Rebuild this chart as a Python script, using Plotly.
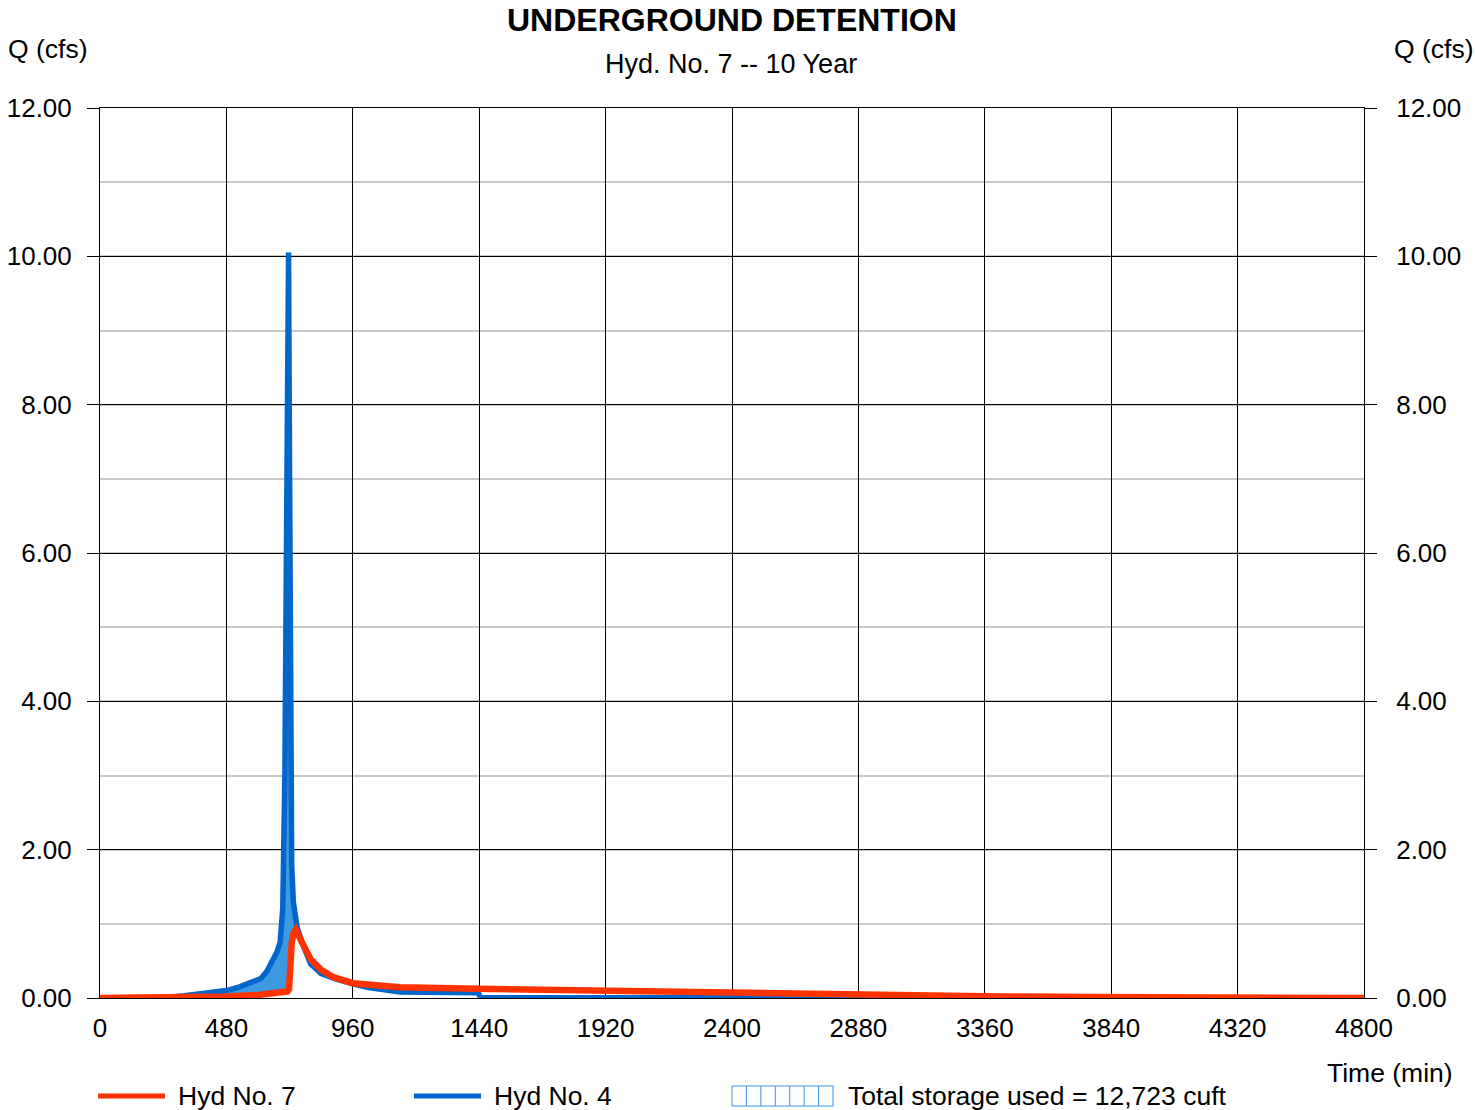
import numpy as np
import plotly.graph_objects as go

# ---------------- data ----------------
hyd4_time = [0, 200, 260, 320, 380, 440, 480, 530, 580, 610, 634, 657, 672, 684, 694, 702, 710, 716,
             720, 724, 728, 734, 748, 770, 800, 840, 900, 960, 1020, 1140, 1300, 1436, 1446, 2400, 3360, 4800]
hyd4_q = [0.0, 0.0, 0.01, 0.03, 0.05, 0.08, 0.10, 0.15, 0.21, 0.26, 0.36, 0.50, 0.62, 0.75, 1.2, 3.0, 7.5, 10.05,
          7.0, 3.5, 1.8, 1.3, 0.96, 0.72, 0.46, 0.33, 0.25, 0.19, 0.14, 0.08, 0.075, 0.07, 0.005, 0.004, 0.002, 0.0]

hyd7_time = [0, 300, 480, 600, 680, 712, 718, 722, 728, 736, 744, 760, 780, 800, 840, 886, 960, 1060,
             1140, 1440, 1920, 2280, 2880, 3420, 3800, 4320, 4800]
hyd7_q = [0.0, 0.005, 0.02, 0.04, 0.06, 0.09, 0.12, 0.40, 0.75, 0.88, 0.92, 0.80, 0.65, 0.52, 0.38, 0.28, 0.20, 0.16,
          0.144, 0.125, 0.095, 0.077, 0.045, 0.02, 0.013, 0.006, 0.0]

y_ticks = [0, 2, 4, 6, 8, 10, 12]
x_ticks = [0, 480, 960, 1440, 1920, 2400, 2880, 3360, 3840, 4320, 4800]

title_text = "UNDERGROUND DETENTION"
subtitle_text = "Hyd. No. 7 -- 10 Year"
legend_labels = ["Hyd No. 7", "Hyd No. 4", "Total storage used = 12,723 cuft"]

RED = "#ff3300"
BLUE = "#0066cc"
FILL = "#3d9ae0"
FONT = "Liberation Sans, Arial, sans-serif"

# ---------------- derived storage band ----------------
t_all = np.unique(np.concatenate([hyd4_time, hyd7_time]))
b_all = np.interp(t_all, hyd4_time, hyd4_q)
r_all = np.interp(t_all, hyd7_time, hyd7_q)
upper = np.maximum(b_all, r_all)

fig = go.Figure()
fig.add_trace(go.Scatter(x=t_all, y=r_all, mode="lines", line=dict(width=0, color=FILL),
                         showlegend=False, hoverinfo="skip"))
fig.add_trace(go.Scatter(x=t_all, y=upper, mode="lines", line=dict(width=0, color=FILL),
                         fill="tonexty", fillcolor=FILL, showlegend=False, hoverinfo="skip"))
fig.add_trace(go.Scatter(x=hyd4_time, y=hyd4_q, mode="lines", name=legend_labels[1],
                         line=dict(color=BLUE, width=5.5), showlegend=False))
fig.add_trace(go.Scatter(x=hyd7_time, y=hyd7_q, mode="lines", name=legend_labels[0],
                         line=dict(color=RED, width=6.5), showlegend=False))
# trace to carry the right-hand axis
fig.add_trace(go.Scatter(x=[x_ticks[0]], y=[y_ticks[0]], yaxis="y2", mode="markers",
                         marker=dict(opacity=0), showlegend=False, hoverinfo="skip"))

L, R, T, B = 100, 111, 108, 112
W, H = 1475, 1110
pw, ph = W - L - R, H - T - B


def px(x):
    return (x - L) / pw


def py(y):
    return (H - B - y) / ph


yaxis_common = dict(range=[y_ticks[0], y_ticks[-1]], tickvals=y_ticks,
                    ticktext=[f"{v:.2f}" for v in y_ticks],
                    ticks="outside", ticklen=12, tickwidth=1, tickcolor="#000",
                    tickfont=dict(family=FONT, size=26, color="#000"),
                    showline=True, linecolor="#000", linewidth=1,
                    automargin=False)

fig.update_layout(
    width=W, height=H, autosize=False,
    margin=dict(l=L, r=R, t=T, b=B),
    paper_bgcolor="white", plot_bgcolor="white",
    font=dict(family=FONT, color="#000"),
    xaxis=dict(range=[x_ticks[0], x_ticks[-1]], tickvals=x_ticks, ticks="",
               tickfont=dict(family=FONT, size=26, color="#000"),
               showgrid=True, gridcolor="#000", gridwidth=1,
               showline=True, linecolor="#000", linewidth=1, mirror=True,
               zeroline=False, ticklabelstandoff=7, automargin=False),
    yaxis=dict(**yaxis_common, showgrid=True, gridcolor="#000", gridwidth=1,
               zeroline=True, zerolinecolor="#000", zerolinewidth=1, ticklabelstandoff=10,
               minor=dict(dtick=1, tick0=0, showgrid=True, gridcolor="#c8c8c8", gridwidth=2, ticks="")),
    yaxis2=dict(**yaxis_common, overlaying="y", side="right", showgrid=False, zeroline=False,
                ticklabelstandoff=14),
)

ann = []
ann.append(dict(text=f"<b>{title_text}</b>", x=px(732), y=py(20), xref="paper", yref="paper",
                showarrow=False, font=dict(family=FONT, size=32, color="#000"),
                xanchor="center", yanchor="middle"))
ann.append(dict(text=subtitle_text, x=px(731), y=py(64), xref="paper", yref="paper",
                showarrow=False, font=dict(family=FONT, size=27, color="#000"),
                xanchor="center", yanchor="middle"))
ann.append(dict(text="Q (cfs)", x=px(6), y=py(49), xref="paper", yref="paper",
                showarrow=False, font=dict(family=FONT, size=26.5, color="#000"),
                xanchor="left", yanchor="middle"))
ann.append(dict(text="Q (cfs)", x=px(1476), y=py(49), xref="paper", yref="paper",
                showarrow=False, font=dict(family=FONT, size=26.5, color="#000"),
                xanchor="right", yanchor="middle"))
ann.append(dict(text="Time (min)", x=px(1455), y=py(1073), xref="paper", yref="paper",
                showarrow=False, font=dict(family=FONT, size=26.5, color="#000"),
                xanchor="right", yanchor="middle"))
# legend texts
for xpos, label in zip([176, 492, 846], legend_labels):
    ann.append(dict(text=label, x=px(xpos), y=py(1096), xref="paper", yref="paper",
                    showarrow=False, font=dict(family=FONT, size=26.5, color="#000"),
                    xanchor="left", yanchor="middle"))

shapes = []
shapes.append(dict(type="line", xref="paper", yref="paper", x0=px(98), x1=px(165), y0=py(1096), y1=py(1096),
                   line=dict(color=RED, width=5)))
shapes.append(dict(type="line", xref="paper", yref="paper", x0=px(414), x1=px(481), y0=py(1096), y1=py(1096),
                   line=dict(color=BLUE, width=5)))
shapes.append(dict(type="rect", xref="paper", yref="paper", x0=px(732), x1=px(833), y0=py(1106), y1=py(1086),
                   line=dict(color="#3d8fe0", width=1), fillcolor="white"))
for k in range(1, 7):
    xx = 732 + k * (101 / 7)
    shapes.append(dict(type="line", xref="paper", yref="paper", x0=px(xx), x1=px(xx), y0=py(1106), y1=py(1086),
                       line=dict(color="#3d8fe0", width=1)))

fig.update_layout(annotations=ann, shapes=shapes)
fig.write_html("out.html")
